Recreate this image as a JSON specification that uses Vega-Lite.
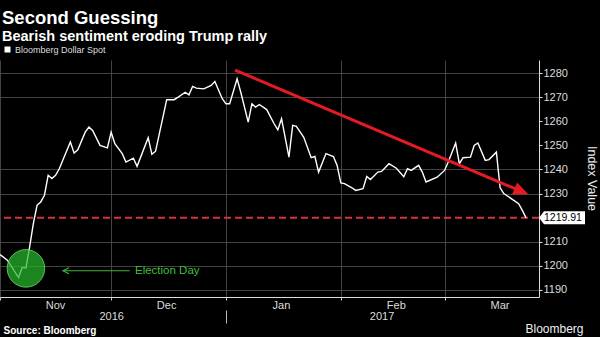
{
  "$schema": "https://vega.github.io/schema/vega-lite/v6.json",
  "width": 539,
  "height": 237,
  "autosize": "none",
  "padding": {"left": 0, "top": 60, "right": 61, "bottom": 40},
  "background": "#000000",
  "config": {
    "view": {"stroke": null},
    "font": "Liberation Sans",
    "axis": {"labelFont": "Liberation Sans", "titleFont": "Liberation Sans"},
    "legend": {"labelFont": "Liberation Sans"}
  },
  "title": {
    "text": "Second Guessing",
    "subtitle": "Bearish sentiment eroding Trump rally",
    "anchor": "start",
    "frame": "group",
    "dx": 2,
    "offset": 2,
    "font": "Liberation Sans",
    "fontSize": 18.5,
    "fontWeight": "bold",
    "color": "#ffffff",
    "subtitleFont": "Liberation Sans",
    "subtitleFontSize": 14.5,
    "subtitleFontWeight": "bold",
    "subtitleColor": "#ffffff",
    "subtitlePadding": 2
  },
  "datasets": {
    "spot": [
      {"date": "2016-11-01", "value": 1204.6},
      {"date": "2016-11-03", "value": 1202.3},
      {"date": "2016-11-06", "value": 1195.1},
      {"date": "2016-11-07", "value": 1199.3},
      {"date": "2016-11-08", "value": 1199.1},
      {"date": "2016-11-09", "value": 1207.8},
      {"date": "2016-11-10", "value": 1217.5},
      {"date": "2016-11-11", "value": 1225.1},
      {"date": "2016-11-12", "value": 1226.5},
      {"date": "2016-11-13", "value": 1229.3},
      {"date": "2016-11-14", "value": 1237.6},
      {"date": "2016-11-15", "value": 1236.2},
      {"date": "2016-11-16", "value": 1237.6},
      {"date": "2016-11-17", "value": 1240.3},
      {"date": "2016-11-20", "value": 1251.4},
      {"date": "2016-11-21", "value": 1246.8},
      {"date": "2016-11-22", "value": 1248.2},
      {"date": "2016-11-24", "value": 1255.5},
      {"date": "2016-11-25", "value": 1257.6},
      {"date": "2016-11-26", "value": 1256.2},
      {"date": "2016-11-28", "value": 1250.0},
      {"date": "2016-11-30", "value": 1249.0},
      {"date": "2016-12-01", "value": 1255.5},
      {"date": "2016-12-02", "value": 1250.7},
      {"date": "2016-12-04", "value": 1246.6},
      {"date": "2016-12-05", "value": 1243.1},
      {"date": "2016-12-07", "value": 1244.7},
      {"date": "2016-12-08", "value": 1241.3},
      {"date": "2016-12-11", "value": 1253.2},
      {"date": "2016-12-12", "value": 1246.3},
      {"date": "2016-12-13", "value": 1247.6},
      {"date": "2016-12-16", "value": 1269.0},
      {"date": "2016-12-18", "value": 1269.0},
      {"date": "2016-12-19", "value": 1270.0},
      {"date": "2016-12-21", "value": 1272.1},
      {"date": "2016-12-22", "value": 1271.0},
      {"date": "2016-12-23", "value": 1274.5},
      {"date": "2016-12-24", "value": 1273.8},
      {"date": "2016-12-26", "value": 1273.5},
      {"date": "2016-12-28", "value": 1274.9},
      {"date": "2016-12-29", "value": 1276.6},
      {"date": "2016-12-31", "value": 1269.4},
      {"date": "2017-01-01", "value": 1267.3},
      {"date": "2017-01-02", "value": 1267.3},
      {"date": "2017-01-04", "value": 1277.7},
      {"date": "2017-01-05", "value": 1272.1},
      {"date": "2017-01-07", "value": 1259.7},
      {"date": "2017-01-08", "value": 1267.3},
      {"date": "2017-01-09", "value": 1265.9},
      {"date": "2017-01-10", "value": 1267.0},
      {"date": "2017-01-12", "value": 1264.9},
      {"date": "2017-01-14", "value": 1259.0},
      {"date": "2017-01-15", "value": 1256.5},
      {"date": "2017-01-16", "value": 1261.1},
      {"date": "2017-01-18", "value": 1245.1},
      {"date": "2017-01-19", "value": 1258.3},
      {"date": "2017-01-20", "value": 1257.9},
      {"date": "2017-01-22", "value": 1253.4},
      {"date": "2017-01-24", "value": 1244.9},
      {"date": "2017-01-25", "value": 1245.4},
      {"date": "2017-01-26", "value": 1238.9},
      {"date": "2017-01-28", "value": 1246.6},
      {"date": "2017-01-30", "value": 1245.4},
      {"date": "2017-01-31", "value": 1241.7},
      {"date": "2017-02-01", "value": 1234.4},
      {"date": "2017-02-02", "value": 1234.1},
      {"date": "2017-02-04", "value": 1232.4},
      {"date": "2017-02-05", "value": 1231.3},
      {"date": "2017-02-07", "value": 1232.0},
      {"date": "2017-02-08", "value": 1237.1},
      {"date": "2017-02-09", "value": 1235.8},
      {"date": "2017-02-11", "value": 1238.9},
      {"date": "2017-02-12", "value": 1239.2},
      {"date": "2017-02-14", "value": 1242.4},
      {"date": "2017-02-16", "value": 1240.5},
      {"date": "2017-02-18", "value": 1237.0},
      {"date": "2017-02-19", "value": 1240.3},
      {"date": "2017-02-20", "value": 1239.6},
      {"date": "2017-02-22", "value": 1241.7},
      {"date": "2017-02-23", "value": 1238.9},
      {"date": "2017-02-24", "value": 1234.8},
      {"date": "2017-02-27", "value": 1236.8},
      {"date": "2017-03-01", "value": 1239.6},
      {"date": "2017-03-02", "value": 1243.1},
      {"date": "2017-03-04", "value": 1251.0},
      {"date": "2017-03-05", "value": 1242.4},
      {"date": "2017-03-06", "value": 1244.9},
      {"date": "2017-03-08", "value": 1245.1},
      {"date": "2017-03-09", "value": 1250.0},
      {"date": "2017-03-10", "value": 1251.0},
      {"date": "2017-03-12", "value": 1243.8},
      {"date": "2017-03-13", "value": 1244.1},
      {"date": "2017-03-15", "value": 1247.2},
      {"date": "2017-03-16", "value": 1232.4},
      {"date": "2017-03-17", "value": 1230.0},
      {"date": "2017-03-19", "value": 1227.9},
      {"date": "2017-03-21", "value": 1225.8},
      {"date": "2017-03-22", "value": 1223.0},
      {"date": "2017-03-23", "value": 1219.91}
    ],
    "trend": [
      {"date": "2017-01-03T10:30:00Z", "value": 1281.3},
      {"date": "2017-03-21T18:30:00Z", "value": 1230.9}
    ],
    "trendHead": [
      {"date": "2017-03-21T18:30:00Z", "value": 1230.9}
    ],
    "lastLevel": [
      {"value": 1219.91}
    ],
    "election": [
      {"date": "2016-11-08", "value": 1198.9, "label": "Election Day"}
    ],
    "electionArrow": [
      {"date": "2016-11-18T00:00:00Z", "value": 1197.9},
      {"date": "2016-12-06T00:00:00Z", "value": 1197.9}
    ],
    "electionHead": [
      {"date": "2016-11-18T19:40:00Z", "value": 1197.9}
    ],
    "electionText": [
      {"date": "2016-12-07T10:30:00Z", "value": 1197.9, "label": "Election Day"}
    ],
    "last": [
      {"date": "2017-03-26T12:00:00Z", "value": 1219.91, "label": "1219.91"}
    ]
  },
  "layer": [
    {
      "data": {"name": "lastLevel"},
      "mark": {"type": "rule", "color": "#d8323c", "strokeDash": [7, 4], "strokeWidth": 2},
      "encoding": {
        "y": {"field": "value", "type": "quantitative", "axis": null, "scale": {"domain": [1187, 1285.5], "zero": false, "nice": false}}
      }
    },
    {
      "data": {"name": "spot"},
      "mark": {"type": "line", "strokeWidth": 1.4, "interpolate": "linear"},
      "encoding": {
        "x": {
          "field": "date", "type": "temporal",
          "scale": {"type": "utc", "domain": [{"year": 2016, "month": 11, "date": 1, "utc": true}, {"year": 2017, "month": 3, "date": 26, "hours": 12, "utc": true}]},
          "axis": {
            "orient": "bottom",
            "values": [
              {"year": 2016, "month": 11, "date": 1, "utc": true},
              {"year": 2016, "month": 12, "date": 1, "utc": true},
              {"year": 2017, "month": 1, "date": 1, "utc": true},
              {"year": 2017, "month": 2, "date": 1, "utc": true},
              {"year": 2017, "month": 3, "date": 1, "utc": true}
            ],
            "labelExpr": "utcFormat(datum.value, '%b')",
            "labelOffset": 55,
            "labelAlign": "center",
            "labelOverlap": false,
            "labelColor": "#dddddd",
            "labelFontSize": 11,
            "labelPadding": -1,
            "tickSize": 3,
            "tickColor": "#cccccc",
            "domainColor": "#dddddd",
            "grid": true,
            "gridColor": "#444444",
            "title": "Bloomberg",
            "titleAnchor": "start",
            "titleAlign": "right",
            "titleBaseline": "alphabetic",
            "titleX": 583,
            "titleY": 35,
            "titleFontSize": 12,
            "titleFontWeight": "normal",
            "titleColor": "#eeeeee"
          }
        },
        "y": {
          "field": "value", "type": "quantitative",
          "scale": {"domain": [1187, 1285.5], "zero": false, "nice": false},
          "axis": {
            "orient": "right",
            "values": [1190, 1200, 1210, 1220, 1230, 1240, 1250, 1260, 1270, 1280],
            "format": "d",
            "labelExpr": "datum.value == 1220 ? '' : datum.label",
            "labelOverlap": false,
            "labelFlush": false,
            "tickSize": 3,
            "tickColor": "#dddddd",
            "labelPadding": 1,
            "labelColor": "#dddddd",
            "labelFontSize": 11,
            "domainColor": "#dddddd",
            "grid": true,
            "gridColor": "#444444",
            "gridOpacity": {"condition": {"test": "datum.value == 1260 || datum.value == 1250 || datum.value == 1220", "value": 0}, "value": 1},
            "title": "Index Value",
            "titleAngle": 90,
            "titleX": 52,
            "titleY": 118,
            "titleAlign": "center",
            "titleBaseline": "middle",
            "titleFontSize": 12.5,
            "titleFontWeight": "normal",
            "titleColor": "#eeeeee"
          }
        },
        "color": {
          "datum": "Bloomberg Dollar Spot",
          "scale": {"range": ["#ffffff"]},
          "legend": {
            "orient": "none",
            "legendX": 3,
            "legendY": -15,
            "title": null,
            "symbolType": "square",
            "symbolSize": 36,
            "symbolFillColor": "#ffffff",
            "symbolStrokeColor": "#ffffff",
            "symbolStrokeWidth": 0,
            "labelColor": "#dddddd",
            "labelFontSize": 9,
            "labelOffset": 3,
            "encode": {"symbols": {"update": {"fill": {"value": "#ffffff"}, "fillOpacity": {"value": 1}}}}
          }
        }
      }
    },
    {
      "data": {"name": "trend"},
      "mark": {"type": "line", "color": "#e31b23", "strokeWidth": 3, "strokeCap": "butt"},
      "encoding": {
        "x": {
          "field": "date", "type": "temporal",
          "scale": {"type": "utc", "domain": [{"year": 2016, "month": 11, "date": 1, "utc": true}, {"year": 2017, "month": 3, "date": 26, "hours": 12, "utc": true}]},
          "axis": {
            "orient": "bottom",
            "offset": 13,
            "values": [
              {"year": 2016, "month": 12, "date": 1, "utc": true},
              {"year": 2017, "month": 1, "date": 1, "utc": true},
              {"year": 2017, "month": 2, "date": 12, "utc": true}
            ],
            "labelExpr": "utcFormat(datum.value, '%m') == '01' ? '' : utcFormat(datum.value, '%Y')",
            "labelOverlap": false,
            "domain": false,
            "grid": false,
            "tickSize": 13,
            "tickColor": "#bbbbbb",
            "tickOpacity": {"condition": {"test": "utcFormat(datum.value, '%m') == '01'", "value": 1}, "value": 0},
            "labelPadding": -13,
            "labelColor": "#dddddd",
            "labelFontSize": 11,
            "title": "Source: Bloomberg",
            "titleAnchor": "start",
            "titleAlign": "left",
            "titleBaseline": "alphabetic",
            "titleX": 3,
            "titleY": 23,
            "titleFontSize": 10,
            "titleFontWeight": "bold",
            "titleColor": "#ffffff"
          }
        },
        "y": {"field": "value", "type": "quantitative", "axis": null, "scale": {"domain": [1187, 1285.5], "zero": false, "nice": false}}
      }
    },
    {
      "data": {"name": "trendHead"},
      "mark": {"type": "point", "shape": "M1,0L-1,-0.87L-1,0.87Z", "size": 225, "angle": 22.9, "filled": true, "color": "#e31b23", "opacity": 1},
      "encoding": {
        "x": {"field": "date", "type": "temporal", "axis": null, "scale": {"type": "utc", "domain": [{"year": 2016, "month": 11, "date": 1, "utc": true}, {"year": 2017, "month": 3, "date": 26, "hours": 12, "utc": true}]}},
        "y": {"field": "value", "type": "quantitative", "axis": null, "scale": {"domain": [1187, 1285.5], "zero": false, "nice": false}}
      }
    },
    {
      "data": {"name": "election"},
      "mark": {"type": "point", "shape": "circle", "size": 1410, "filled": true, "fill": "#27b82d", "fillOpacity": 0.72, "stroke": "#6fd56f", "strokeWidth": 1, "strokeOpacity": 0.8},
      "encoding": {
        "x": {"field": "date", "type": "temporal", "axis": null, "scale": {"type": "utc", "domain": [{"year": 2016, "month": 11, "date": 1, "utc": true}, {"year": 2017, "month": 3, "date": 26, "hours": 12, "utc": true}]}},
        "y": {"field": "value", "type": "quantitative", "axis": null, "scale": {"domain": [1187, 1285.5], "zero": false, "nice": false}}
      }
    },
    {
      "data": {"name": "electionArrow"},
      "mark": {"type": "line", "color": "#3cb43c", "strokeWidth": 1.2},
      "encoding": {
        "x": {"field": "date", "type": "temporal", "axis": null, "scale": {"type": "utc", "domain": [{"year": 2016, "month": 11, "date": 1, "utc": true}, {"year": 2017, "month": 3, "date": 26, "hours": 12, "utc": true}]}},
        "y": {"field": "value", "type": "quantitative", "axis": null, "scale": {"domain": [1187, 1285.5], "zero": false, "nice": false}}
      }
    },
    {
      "data": {"name": "electionHead"},
      "mark": {"type": "point", "shape": "M1,-1L-1,0L1,1", "size": 36, "filled": false, "stroke": "#3cb43c", "strokeWidth": 1.2, "opacity": 1},
      "encoding": {
        "x": {"field": "date", "type": "temporal", "axis": null, "scale": {"type": "utc", "domain": [{"year": 2016, "month": 11, "date": 1, "utc": true}, {"year": 2017, "month": 3, "date": 26, "hours": 12, "utc": true}]}},
        "y": {"field": "value", "type": "quantitative", "axis": null, "scale": {"domain": [1187, 1285.5], "zero": false, "nice": false}}
      }
    },
    {
      "data": {"name": "electionText"},
      "mark": {"type": "text", "align": "left", "baseline": "middle", "fontSize": 11.5, "color": "#3fbf3f"},
      "encoding": {
        "x": {"field": "date", "type": "temporal", "axis": null, "scale": {"type": "utc", "domain": [{"year": 2016, "month": 11, "date": 1, "utc": true}, {"year": 2017, "month": 3, "date": 26, "hours": 12, "utc": true}]}},
        "y": {"field": "value", "type": "quantitative", "axis": null, "scale": {"domain": [1187, 1285.5], "zero": false, "nice": false}},
        "text": {"field": "label"}
      }
    },
    {
      "data": {"name": "last"},
      "mark": {"type": "point", "shape": "M0.0,0L0.1,-0.13L0.92,-0.13L0.92,0.13L0.1,0.13Z", "size": 10000, "filled": true, "fill": "#ffffff", "opacity": 1, "strokeWidth": 0},
      "encoding": {
        "x": {"field": "date", "type": "temporal", "axis": null, "scale": {"type": "utc", "domain": [{"year": 2016, "month": 11, "date": 1, "utc": true}, {"year": 2017, "month": 3, "date": 26, "hours": 12, "utc": true}]}},
        "y": {"field": "value", "type": "quantitative", "axis": null, "scale": {"domain": [1187, 1285.5], "zero": false, "nice": false}}
      }
    },
    {
      "data": {"name": "last"},
      "mark": {"type": "text", "align": "left", "baseline": "middle", "dx": 5, "fontSize": 10.5, "color": "#000000"},
      "encoding": {
        "x": {"field": "date", "type": "temporal", "axis": null, "scale": {"type": "utc", "domain": [{"year": 2016, "month": 11, "date": 1, "utc": true}, {"year": 2017, "month": 3, "date": 26, "hours": 12, "utc": true}]}},
        "y": {"field": "value", "type": "quantitative", "axis": null, "scale": {"domain": [1187, 1285.5], "zero": false, "nice": false}},
        "text": {"field": "label"}
      }
    }
  ],
  "resolve": {"axis": {"x": "independent", "y": "independent"}}
}
